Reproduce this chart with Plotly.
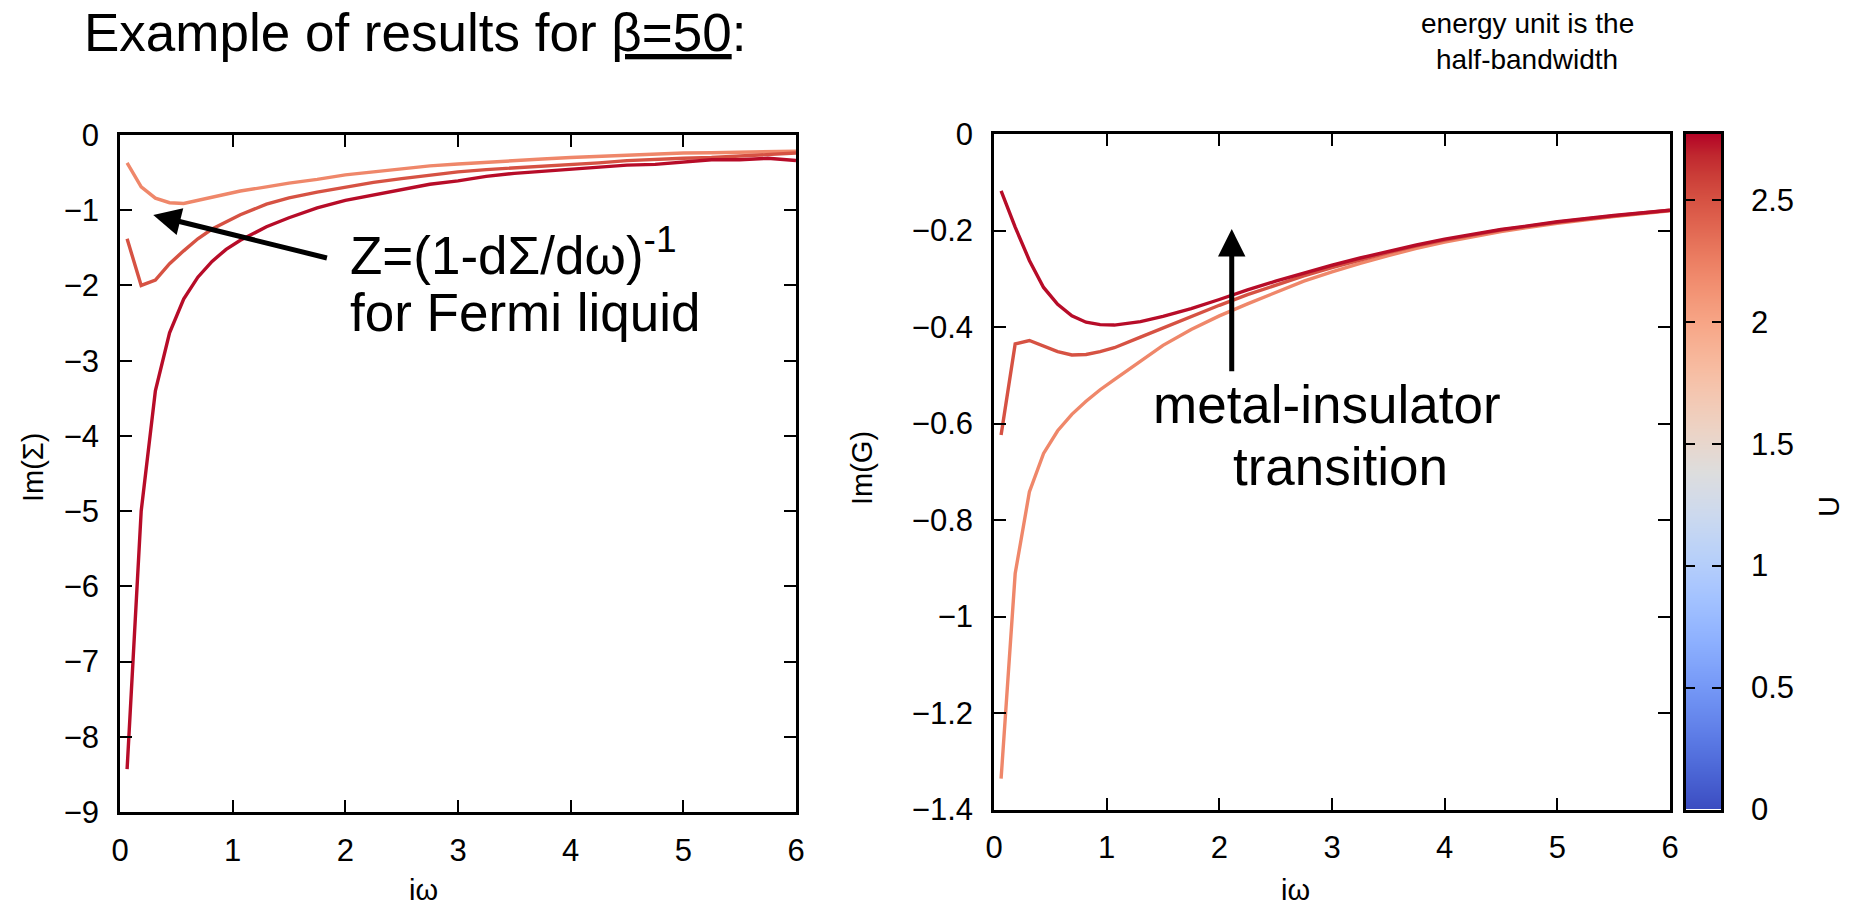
import plotly.graph_objects as go
from plotly.colors import sample_colorscale

# ---------------- data ----------------
U_values = [2.2, 2.5, 2.75]          # light, medium, dark curves
U_min, U_max = 0.0, 2.77

w_sigma = [0.063, 0.188, 0.314, 0.440, 0.565, 0.691, 0.817, 0.942, 1.068,
           1.3, 1.5, 1.75, 2.0, 2.25, 2.5, 2.75, 3.0, 3.25, 3.5, 3.75, 4.0,
           4.25, 4.5, 4.75, 5.0, 5.25, 5.5, 5.75, 6.0]
sigma_U22 = [-0.37, -0.69, -0.84, -0.90, -0.91, -0.87, -0.83, -0.78, -0.745,
             -0.69, -0.64, -0.59, -0.53, -0.49, -0.45, -0.41, -0.385, -0.36, -0.34,
             -0.32, -0.30, -0.285, -0.27, -0.25, -0.24, -0.235, -0.23, -0.22, -0.215]
sigma_U25 = [-1.38, -2.00, -1.93, -1.71, -1.54, -1.38, -1.25, -1.15, -1.06,
             -0.92, -0.835, -0.76, -0.69, -0.63, -0.58, -0.53, -0.49, -0.46, -0.44,
             -0.42, -0.40, -0.37, -0.34, -0.32, -0.31, -0.30, -0.28, -0.26, -0.24]
sigma_U275 = [-8.43, -5.00, -3.40, -2.63, -2.18, -1.89, -1.68, -1.52, -1.40,
              -1.22, -1.10, -0.97, -0.87, -0.80, -0.72, -0.655, -0.61, -0.55, -0.51,
              -0.48, -0.45, -0.43, -0.40, -0.39, -0.36, -0.33, -0.33, -0.31, -0.34]

w_G = [0.063, 0.188, 0.314, 0.440, 0.565, 0.691, 0.817, 0.942, 1.068,
       1.3, 1.5, 1.75, 2.0, 2.25, 2.5, 2.75, 3.0, 3.25, 3.5, 3.75, 4.0, 4.5,
       5.0, 5.5, 6.0]
G_U22 = [-1.336, -0.911, -0.742, -0.662, -0.615, -0.581, -0.554, -0.530, -0.509,
         -0.472, -0.438, -0.405, -0.377, -0.352, -0.328, -0.305, -0.286, -0.268,
         -0.252, -0.237, -0.224, -0.202, -0.185, -0.171, -0.159]
G_U25 = [-0.624, -0.435, -0.428, -0.440, -0.451, -0.458, -0.457, -0.451, -0.443,
         -0.421, -0.402, -0.379, -0.355, -0.333, -0.313, -0.294, -0.277, -0.261,
         -0.246, -0.232, -0.220, -0.199, -0.183, -0.170, -0.158]
G_U275 = [-0.118, -0.193, -0.262, -0.318, -0.353, -0.377, -0.390, -0.395, -0.396,
          -0.389, -0.378, -0.362, -0.343, -0.323, -0.305, -0.288, -0.272, -0.257,
          -0.243, -0.230, -0.218, -0.198, -0.182, -0.169, -0.158]

x_ticks = [0, 1, 2, 3, 4, 5, 6]
x_ticktext = ["0", "1", "2", "3", "4", "5", "6"]
sigma_ticks = [0, -1, -2, -3, -4, -5, -6, -7, -8, -9]
sigma_ticktext = ["0", "\u22121", "\u22122", "\u22123", "\u22124", "\u22125",
                  "\u22126", "\u22127", "\u22128", "\u22129"]
G_ticks = [0, -0.2, -0.4, -0.6, -0.8, -1.0, -1.2, -1.4]
G_ticktext = ["0", "\u22120.2", "\u22120.4", "\u22120.6", "\u22120.8", "\u22121",
              "\u22121.2", "\u22121.4"]
cb_ticks = [0, 0.5, 1, 1.5, 2, 2.5]
cb_ticktext = ["0", "0.5", "1", "1.5", "2", "2.5"]

# matplotlib-like "coolwarm"
coolwarm_rgb = [(59, 76, 192), (68, 90, 204), (77, 104, 215), (87, 117, 225),
                (98, 130, 234), (108, 142, 241), (119, 154, 247), (130, 165, 251),
                (141, 176, 254), (152, 185, 255), (163, 194, 255), (174, 201, 253),
                (184, 208, 249), (194, 213, 244), (204, 217, 238), (213, 219, 230),
                (221, 221, 221), (229, 216, 209), (236, 211, 197), (241, 204, 185),
                (245, 196, 173), (247, 187, 160), (247, 177, 148), (247, 166, 135),
                (244, 154, 123), (241, 141, 111), (236, 127, 99), (229, 112, 88),
                (222, 96, 77), (213, 80, 66), (203, 62, 56), (192, 40, 47), (180, 4, 38)]
n = len(coolwarm_rgb) - 1
coolwarm = [[i / n, "rgb(%d,%d,%d)" % c] for i, c in enumerate(coolwarm_rgb)]

def ucolor(u):
    return sample_colorscale(coolwarm, [(u - U_min) / (U_max - U_min)])[0]

# ---------------- geometry ----------------
W, H = 1858, 908
def px(x): return x / W
def py(y): return 1 - y / H

FONT = "Liberation Sans, Arial, Helvetica, sans-serif"
TICKSIZE = 31

fig = go.Figure()

sig_series = [sigma_U22, sigma_U25, sigma_U275]
G_series = [G_U22, G_U25, G_U275]
for u, s in zip(U_values, sig_series):
    fig.add_trace(go.Scatter(x=w_sigma, y=s, mode="lines", xaxis="x", yaxis="y",
                             line=dict(color=ucolor(u), width=3.4), showlegend=False))
for u, g in zip(U_values, G_series):
    fig.add_trace(go.Scatter(x=w_G, y=g, mode="lines", xaxis="x2", yaxis="y2",
                             line=dict(color=ucolor(u), width=3.4), showlegend=False))

# colour bar drawn as a smooth heatmap between the colour-range ends
fig.add_trace(go.Heatmap(
    x=[0], y=[U_min, U_max], z=[[U_min], [U_max]], zsmooth="best",
    zmin=U_min, zmax=U_max, colorscale=coolwarm, showscale=False,
    xaxis="x3", yaxis="y3", hoverinfo="skip"))

axis_common = dict(showgrid=False, zeroline=False, showline=True, linecolor="black",
                   linewidth=2.5, mirror="ticks", ticks="inside", ticklen=12,
                   tickwidth=2, tickcolor="black", automargin=False,
                   tickfont=dict(family=FONT, size=TICKSIZE, color="black"))

fig.update_layout(
    width=W, height=H, autosize=False,
    margin=dict(l=0, r=0, t=0, b=0, pad=0, autoexpand=False),
    paper_bgcolor="white", plot_bgcolor="white", showlegend=False,
    font=dict(family=FONT, color="black"),
    xaxis=dict(domain=[px(120), px(796)], range=[0, 6], anchor="y",
               tickmode="array", tickvals=x_ticks, ticktext=x_ticktext,
               ticklabelstandoff=9, **axis_common),
    yaxis=dict(domain=[py(812), py(135)], range=[-9, 0], anchor="x",
               tickmode="array", tickvals=sigma_ticks, ticktext=sigma_ticktext,
               ticklabelstandoff=12, **axis_common),
    xaxis2=dict(domain=[px(994), px(1670)], range=[0, 6], anchor="y2",
                tickmode="array", tickvals=x_ticks, ticktext=x_ticktext,
                ticklabelstandoff=9, **axis_common),
    yaxis2=dict(domain=[py(809.5), py(134)], range=[-1.4, 0], anchor="x2",
                tickmode="array", tickvals=G_ticks, ticktext=G_ticktext,
                ticklabelstandoff=12, **axis_common),
    xaxis3=dict(domain=[px(1686), px(1721)], range=[-0.5, 0.5], anchor="y3",
                showgrid=False, zeroline=False, showline=True, linecolor="black",
                linewidth=2.5, mirror=True, ticks="", showticklabels=False),
    yaxis3=dict(domain=[py(809.5), py(134)], range=[U_min, U_max], anchor="x3",
                side="right", automargin=False,
                showgrid=False, zeroline=False, showline=True, linecolor="black",
                linewidth=2.5, mirror="ticks", ticks="inside", ticklen=9, tickwidth=2,
                tickcolor="black", tickmode="array", tickvals=cb_ticks,
                ticktext=cb_ticktext, ticklabelstandoff=21,
                tickfont=dict(family=FONT, size=TICKSIZE, color="black")),
)

ann = []
def text(x, y, s, size, xanchor="center", angle=0):
    ann.append(dict(xref="paper", yref="paper", x=x, y=y, text=s, showarrow=False,
                    xanchor=xanchor, yanchor="middle", textangle=angle,
                    font=dict(family=FONT, size=size, color="black")))

text(px(82), py(32), "Example of results for <u>\u03b2=50</u>:", 53, xanchor="left")
text(px(1527), py(24), "energy unit is the", 28)
text(px(1527), py(59), "half-bandwidth", 28)
text(px(348), py(252), "Z=(1-d\u03a3/d\u03c9)<sup>-1</sup>", 53, xanchor="left")
text(px(348), py(313), "for Fermi liquid", 53, xanchor="left")
text(px(1327), py(404), "metal-insulator", 53)
text(px(1340), py(466), "transition", 53)
text(px(423), py(890), "i\u03c9", 29)
text(px(1295), py(890), "i\u03c9", 29)
text(px(33), py(468), "Im(\u03a3)", 29, angle=-90)
text(px(862), py(468), "Im(G)", 29, angle=-90)
text(px(1829), py(507), "U", 29, angle=-90)

# arrows (in data coordinates)
ann.append(dict(xref="x", yref="y", axref="x", ayref="y", x=0.295, y=-1.064,
                ax=1.85, ay=-1.64, text="", showarrow=True, arrowhead=2,
                arrowwidth=5, arrowsize=1.1, arrowcolor="black", standoff=0))
ann.append(dict(xref="x2", yref="y2", axref="x2", ayref="y2", x=2.11, y=-0.197,
                ax=2.11, ay=-0.495, text="", showarrow=True, arrowhead=2,
                arrowwidth=5, arrowsize=1.1, arrowcolor="black", standoff=0))
fig.update_layout(annotations=ann)

fig.write_html("out.html")
